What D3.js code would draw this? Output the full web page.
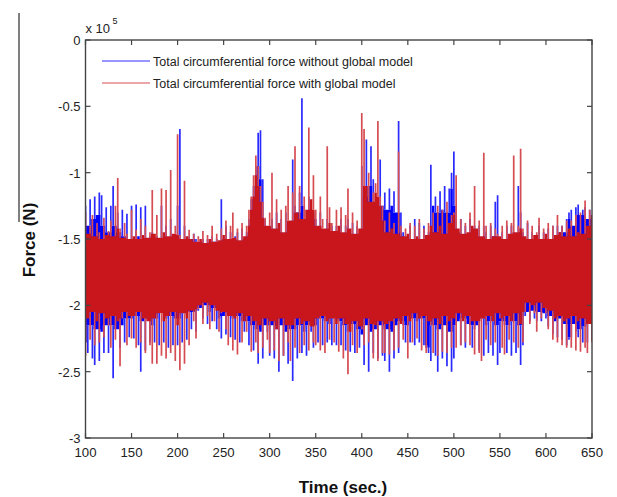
<!DOCTYPE html>
<html>
<head>
<meta charset="utf-8">
<script src="https://cdn.jsdelivr.net/npm/d3@7/dist/d3.min.js"></script>
<style>
  html, body { margin: 0; padding: 0; background: #fff; }
  svg { display: block; font-family: "Liberation Sans", Arial, sans-serif; }
</style>
</head>
<body>
<div id="chart"></div>
<script>
// samples every 2.5 s from 100 s to 650 s, force in kN (-100 kN = -1 x 10^5 N)
var T0 = 100, DT = 2.5;
var xTicks = [100, 150, 200, 250, 300, 350, 400, 450, 500, 550, 600, 650];
var yTicks = [0, -50, -100, -150, -200, -250, -300];
var seriesNames = ["Total circumferential force without global model",
                   "Total circumferential force with global model"];

// blue: without global model (upper / lower extremes per sample)
var blueHi = [
  -125,-140,-120,-135,-118,-132,-115,-117,-140,-126,
  -145,-125,-110,-140,-130,-145,-128,-148,-131,-150,
  -125,-150,-124,-148,-126,-150,-125,-150,-148,-145,
  -150,-148,-150,-125,-150,-140,-150,-135,-150,-148,
  -125,-67,-150,-140,-150,-148,-150,-146,-150,-152,
  -152,-150,-153,-150,-152,-148,-152,-150,-152,-120,
  -150,-140,-150,-145,-150,-148,-145,-152,-142,-150,
  -145,-135,-120,-110,-95,-70,-68,-105,-135,-145,
  -140,-135,-145,-130,-145,-135,-148,-130,-140,-138,
  -90,-125,-130,-115,-44,-125,-135,-118,-125,-130,
  -135,-145,-130,-145,-148,-135,-145,-140,-148,-140,
  -145,-135,-148,-140,-135,-148,-138,-150,-140,-148,
  -95,-118,-75,-110,-80,-105,-125,-120,-90,-125,
  -115,-128,-112,-125,-114,-130,-61,-130,-145,-148,
  -150,-140,-150,-135,-150,-138,-150,-140,-150,-145,
  -94,-125,-118,-130,-114,-128,-110,-130,-112,-100,
  -84,-125,-145,-135,-148,-140,-148,-135,-145,-140,
  -145,-140,-150,-140,-145,-150,-140,-148,-122,-117,
  -150,-145,-150,-140,-148,-140,-145,-148,-110,-130,
  -145,-150,-138,-150,-145,-150,-148,-140,-150,-145,
  -150,-142,-150,-140,-148,-140,-145,-140,-145,-135,
  -130,-128,-140,-126,-124,-132,-128,-126,-135,-128,
  -135
];
var blueLo = [
  -228,-236,-215,-240,-245,-218,-242,-220,-236,-215,
  -236,-215,-255,-218,-218,-232,-215,-228,-210,-224,
  -210,-225,-208,-230,-250,-212,-234,-210,-228,-215,
  -228,-210,-230,-205,-228,-210,-232,-208,-230,-210,
  -230,-210,-228,-206,-226,-205,-218,-205,-220,-204,
  -202,-210,-200,-214,-205,-212,-202,-218,-210,-225,
  -208,-222,-206,-224,-210,-226,-208,-228,-212,-220,
  -212,-230,-215,-234,-218,-244,-220,-240,-215,-220,
  -238,-215,-240,-218,-250,-215,-238,-220,-244,-218,
  -257,-218,-240,-215,-236,-220,-238,-215,-220,-232,
  -215,-228,-210,-230,-212,-228,-214,-230,-210,-230,
  -212,-230,-215,-234,-220,-235,-214,-236,-218,-232,
  -222,-245,-215,-250,-220,-236,-218,-240,-215,-238,
  -242,-218,-250,-220,-240,-215,-236,-212,-215,-228,
  -215,-228,-210,-230,-212,-228,-210,-230,-232,-236,
  -242,-215,-238,-250,-218,-240,-215,-246,-220,-250,
  -240,-215,-212,-230,-210,-232,-214,-215,-232,-218,
  -215,-234,-210,-238,-215,-236,-212,-238,-215,-245,
  -236,-212,-215,-236,-215,-238,-212,-236,-215,-245,
  -230,-208,-205,-212,-204,-210,-212,-205,-212,-206,
  -210,-216,-208,-222,-212,-224,-210,-226,-214,-230,
  -226,-224,-214,-220,-224,-218,-228,-216,-228,-214,
  -226
];
// red: with global model
var redHi = [
  -130,-146,-140,-132,-148,-138,-145,-150,-134,-147,
  -144,-136,-148,-125,-104,-142,-149,-138,-146,-150,
  -128,-148,-143,-150,-135,-147,-140,-149,-145,-113,
  -146,-132,-149,-112,-145,-113,-148,-98,-146,-140,
  -71,-147,-150,-106,-148,-143,-150,-146,-152,-148,
  -150,-144,-153,-147,-150,-140,-152,-146,-151,-142,
  -147,-136,-150,-140,-130,-149,-142,-151,-138,-148,
  -140,-128,-118,-102,-87,-95,-110,-122,-134,-140,
  -130,-100,-142,-120,-138,-128,-145,-125,-110,-136,
  -115,-80,-130,-110,-135,-118,-128,-66,-120,-102,
  -128,-140,-118,-135,-142,-80,-126,-138,-144,-128,
  -140,-126,-145,-132,-112,-142,-130,-146,-136,-142,
  -55,-67,-110,-100,-122,-115,-108,-61,-118,-125,
  -136,-145,-130,-142,-138,-146,-84,-140,-148,-142,
  -146,-138,-150,-140,-148,-135,-150,-142,-147,-138,
  -140,-130,-145,-125,-140,-128,-146,-122,-138,-132,
  -130,-102,-142,-135,-146,-138,-145,-130,-140,-110,
  -142,-136,-148,-85,-140,-150,-138,-148,-142,-146,
  -148,-140,-150,-136,-146,-138,-87,-145,-140,-82,
  -142,-148,-136,-150,-140,-147,-145,-134,-150,-142,
  -146,-138,-150,-140,-147,-132,-145,-140,-148,-136,
  -142,-136,-148,-132,-145,-130,-146,-121,-140,-128,
  -132
];
var redLo = [
  -238,-210,-226,-205,-230,-212,-228,-206,-224,-210,
  -215,-232,-208,-226,-212,-246,-210,-205,-230,-208,
  -225,-208,-232,-205,-228,-210,-236,-212,-230,-244,
  -210,-244,-206,-238,-212,-240,-208,-236,-205,-242,
  -215,-249,-206,-244,-210,-230,-204,-212,-225,-203,
  -200,-214,-198,-208,-218,-200,-212,-204,-220,-206,
  -205,-218,-230,-208,-234,-210,-237,-206,-228,-212,
  -220,-208,-235,-212,-228,-236,-215,-232,-210,-226,
  -236,-212,-234,-218,-242,-210,-238,-215,-228,-242,
  -215,-232,-210,-236,-214,-230,-212,-234,-216,-228,
  -230,-210,-234,-208,-236,-212,-226,-210,-228,-214,
  -235,-210,-240,-214,-252,-220,-230,-212,-236,-216,
  -218,-230,-210,-228,-214,-240,-215,-242,-212,-236,
  -236,-214,-237,-212,-234,-210,-232,-214,-226,-208,
  -240,-212,-228,-206,-225,-210,-234,-208,-236,-212,
  -215,-236,-210,-238,-214,-235,-208,-236,-212,-232,
  -210,-232,-206,-230,-212,-228,-208,-230,-212,-237,
  -212,-236,-242,-210,-226,-208,-230,-212,-228,-206,
  -210,-232,-237,-208,-226,-212,-228,-206,-232,-214,
  -228,-205,-198,-214,-200,-206,-220,-198,-210,-202,
  -206,-218,-204,-226,-210,-228,-208,-230,-212,-232,
  -210,-232,-208,-234,-212,-235,-210,-232,-236,-214,
  -228
];

var W = 617, H = 497;
var margin = {left: 85.5, right: 25, top: 40, bottom: 59};
var svg, x, y, plot, g, drawSignal;

svg = d3.select("#chart").append("svg").attr("width", W).attr("height", H);

x = d3.scaleLinear().domain([100, 650]).range([margin.left, W - margin.right]);
y = d3.scaleLinear().domain([-300, 0]).range([H - margin.bottom, margin.top]);

// stray frame edge at the far left of the figure
svg.append("line").attr("x1", 19).attr("x2", 19).attr("y1", 13).attr("y2", 222)
  .attr("stroke", "#555").attr("stroke-width", 1.5);

svg.append("clipPath").attr("id", "clip").append("rect")
  .attr("x", x(100)).attr("y", y(0)).attr("width", x(650) - x(100)).attr("height", y(-300) - y(0));

plot = svg.append("g").attr("clip-path", "url(#clip)");

// dense signal: wide strokes for the part shared with both neighbours,
// thin lighter strokes for what sticks out beyond them
drawSignal = function (hi, lo, solid, light) {
  var n = hi.length, w = x(T0 + DT) - x(T0), core = "", peaks = "", i, xi, top, bot;
  for (i = 0; i < n; i++) {
    xi = x(T0 + i * DT);
    top = Math.min(hi[i], i > 0 ? hi[i - 1] : 0, i < n - 1 ? hi[i + 1] : 0);
    bot = Math.max(lo[i], i > 0 ? lo[i - 1] : -999, i < n - 1 ? lo[i + 1] : -999);
    core += "M" + xi + "," + y(top) + "V" + y(bot);
    if (hi[i] > top) peaks += "M" + xi + "," + y(hi[i]) + "V" + y(top);
    if (lo[i] < bot) peaks += "M" + xi + "," + y(bot) + "V" + y(lo[i]);
  }
  plot.append("path").attr("d", core).attr("fill", "none")
    .attr("stroke", solid).attr("stroke-width", w + 0.2);
  plot.append("path").attr("d", peaks).attr("fill", "none")
    .attr("stroke", light).attr("stroke-width", 1.7);
};

drawSignal(blueHi, blueLo, "#0000ff", "#2a2aff");
drawSignal(redHi, redLo, "#c8161c", "#d54c52");

// axes box with inward ticks
g = svg.append("g").attr("font-size", "13px").attr("fill", "#222");
g.append("rect").attr("x", x(100)).attr("y", y(0))
  .attr("width", x(650) - x(100)).attr("height", y(-300) - y(0))
  .attr("fill", "none").attr("stroke", "#444").attr("stroke-width", 1.4);

xTicks.forEach(function (v) {
  g.append("line").attr("x1", x(v)).attr("x2", x(v)).attr("y1", y(-300)).attr("y2", y(-300) - 5)
    .attr("stroke", "#444").attr("stroke-width", 1.2);
  g.append("line").attr("x1", x(v)).attr("x2", x(v)).attr("y1", y(0)).attr("y2", y(0) + 5)
    .attr("stroke", "#444").attr("stroke-width", 1.2);
  g.append("text").attr("x", x(v)).attr("y", y(-300) + 19).attr("text-anchor", "middle")
    .attr("textLength", 22).attr("lengthAdjust", "spacingAndGlyphs").text(v);
});

yTicks.forEach(function (v) {
  var s = String(v / 100);
  g.append("line").attr("x1", x(100)).attr("x2", x(100) + 5).attr("y1", y(v)).attr("y2", y(v))
    .attr("stroke", "#444").attr("stroke-width", 1.2);
  g.append("line").attr("x1", x(650)).attr("x2", x(650) - 5).attr("y1", y(v)).attr("y2", y(v))
    .attr("stroke", "#444").attr("stroke-width", 1.2);
  g.append("text").attr("x", x(100) - 5).attr("y", y(v) + 5).attr("text-anchor", "end").text(s);
});

// exponent label
g.append("text").attr("x", x(100)).attr("y", 33).text("x 10");
g.append("text").attr("x", x(100) + 27).attr("y", 24).attr("font-size", "9px").text("5");

// legend
var legendColors = ["#3030ff", "#d85050"];
seriesNames.forEach(function (name, i) {
  var ly = 61 + i * 22;
  g.append("line").attr("x1", 102).attr("x2", 150).attr("y1", ly).attr("y2", ly)
    .attr("stroke", legendColors[i]).attr("stroke-width", 1.2);
  g.append("text").attr("x", 153).attr("y", ly + 5).attr("font-size", "12.5px").text(name);
});

// axis titles
svg.append("text").attr("x", 343).attr("y", 493).attr("text-anchor", "middle")
  .attr("font-weight", "bold").attr("font-size", "17px").attr("fill", "#111").text("Time (sec.)");
svg.append("text").attr("transform", "translate(35,240) rotate(-90)").attr("text-anchor", "middle")
  .attr("font-weight", "bold").attr("font-size", "17px").attr("fill", "#111").text("Force (N)");
</script>
</body>
</html>
